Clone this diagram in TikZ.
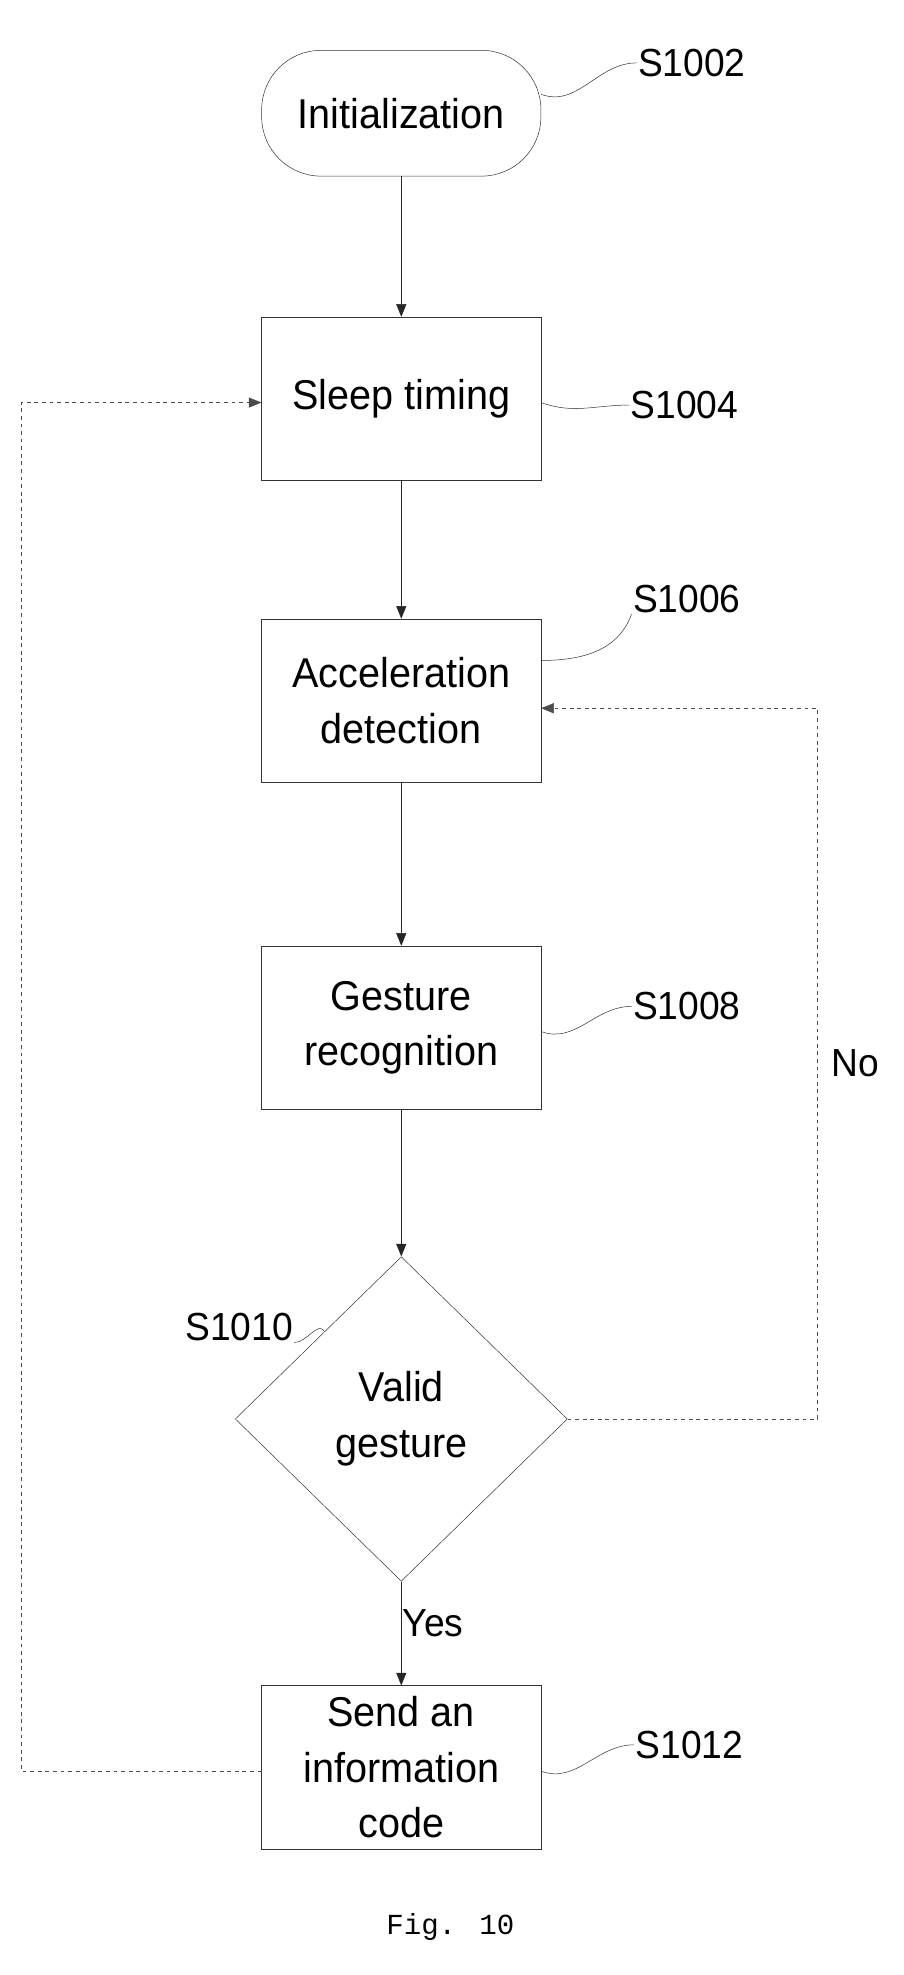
\documentclass[tikz,border=0pt]{standalone}
\usepackage{fontspec}
\setmainfont{Liberation Sans}[FakeStretch=0.95]
\newfontfamily\figfont{Liberation Mono}
\usetikzlibrary{shapes.geometric,arrows.meta,positioning}
\begin{document}
\begin{tikzpicture}[x=0.035cm,y=-0.035cm]
      \tikzstyle{stage} = [rectangle, draw=black!80, thin, minimum width=7.77cm, minimum height=4.55cm, align=center, inner sep=1pt, font=\fontsize{33}{44}\selectfont]
      \tikzstyle{flow} = [-{Triangle[length=10pt,width=8pt]}, draw=black!85, thin]
      \tikzstyle{back} = [flow, dashed, draw=black!70]
      \tikzstyle{tag} = [font=\fontsize{31}{36}\selectfont, inner sep=1pt]
      \tikzstyle{lead} = [draw=black!80, thin]

      \useasboundingbox (0,0) rectangle (718,1570);

      \node[stage, rounded corners=1.65cm, minimum height=3.5cm] (init) at (319,90) {Initialization};
      \node[stage] (sleep) at (319,317) {Sleep timing};
      \node[stage] (accel) at (319,557) {Acceleration\\detection};
      \node[stage] (gest) at (319,817) {Gesture\\recognition};
      \node[diamond, draw=black!80, thin, minimum width=9.24cm, minimum height=9.03cm, aspect=1.02, inner sep=0pt, align=center, font=\fontsize{33}{44}\selectfont] (valid) at (319,1128) {Valid\\gesture};
      \node[stage] (send) at (319,1405) {Send an\\information\\code};

      \node[tag] (t1) at (550,50) {S1002};
      \node[tag] (t2) at (544,322) {S1004};
      \node[tag] (t3) at (546,476) {S1006};
      \node[tag] (t4) at (546,800) {S1008};
      \node[tag] (t5) at (190,1055) {S1010};
      \node[tag] (t6) at (548,1387) {S1012};

      \draw[lead] (init.east) ++(0,-15) to[out=-20,in=180] (t1.west);
      \draw[lead] (sleep.east) ++(0,3) to[out=-20,in=180] (t2.west);
      \draw[lead] (accel.east) ++(0,-32) to[out=0,in=-110] (t3.south west);
      \draw[lead] (gest.east) ++(0,3) to[out=-20,in=180] (t4.west);
      \draw[lead] (valid.north west) ++(5,-5) to[out=120,in=0] (t5.south east);
      \draw[lead] (send.east) ++(0,3) to[out=-20,in=180] (t6.west);

      \draw[flow] (init) -- (sleep);
      \draw[flow] (sleep) -- (accel);
      \draw[flow] (accel) -- (gest);
      \draw[flow] (gest) -- (valid);
      \draw[flow] (valid) -- node[right, tag, pos=0.4] {Yes} (send);

      \coordinate (nr) at (650,1128);
      \coordinate (nt) at (650,563);
      \draw[back] (valid.east) -- (nr) -- (nt) -- (nt -| accel.east);
      \node[tag] (no) at (680,845) {No};

      \coordinate (lb) at (17,1408);
      \coordinate (lt) at (17,320);
      \draw[back] (lb -| send.west) -- (lb) -- (lt) -- (lt -| sleep.west);

      \node[font=\figfont\fontsize{23}{28}\selectfont] (fig) at (358,1532) {Fig. 10};
    \end{tikzpicture}
\end{document}
